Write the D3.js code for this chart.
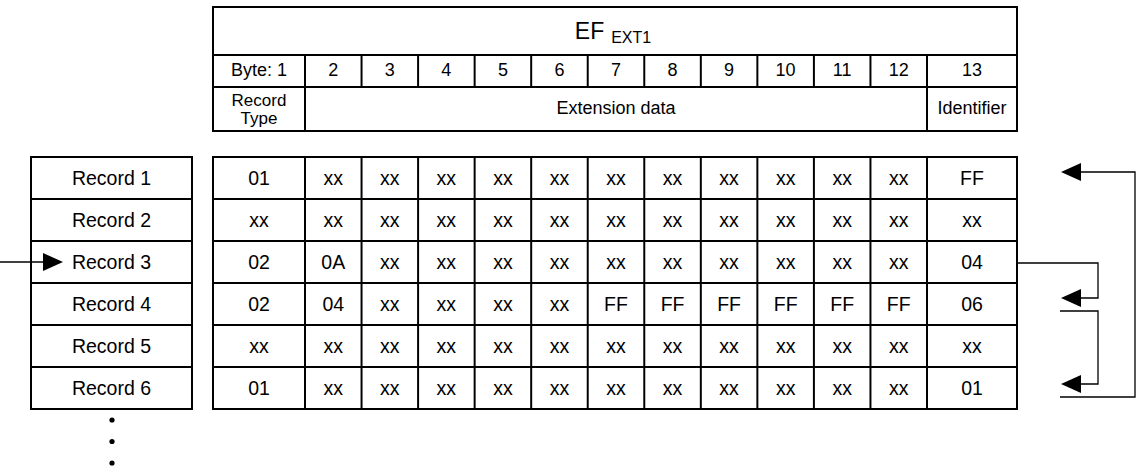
<!DOCTYPE html>
<html>
<head>
<meta charset="utf-8">
<script src="https://cdn.jsdelivr.net/npm/d3@7/dist/d3.min.js"></script>
<style>
  html, body { margin: 0; padding: 0; background: #fff; }
  svg { display: block; }
  text { font-family: "Liberation Sans", Arial, sans-serif; fill: #000; }
</style>
</head>
<body>
<svg id="chart" width="1139" height="468"></svg>
<script>
// ---- data ----
const title = "EF";
const titleSub = "EXT1";
const byteLabels = ["Byte: 1", "2", "3", "4", "5", "6", "7", "8", "9", "10", "11", "12", "13"];
const fieldGroups = [
  { label: ["Record", "Type"], from: 0, to: 1 },
  { label: ["Extension data"], from: 1, to: 12 },
  { label: ["Identifier"], from: 12, to: 13 }
];
const records = ["Record 1", "Record 2", "Record 3", "Record 4", "Record 5", "Record 6"];
const recordValues = [
  ["01", "xx", "xx", "xx", "xx", "xx", "xx", "xx", "xx", "xx", "xx", "xx", "FF"],
  ["xx", "xx", "xx", "xx", "xx", "xx", "xx", "xx", "xx", "xx", "xx", "xx", "xx"],
  ["02", "0A", "xx", "xx", "xx", "xx", "xx", "xx", "xx", "xx", "xx", "xx", "04"],
  ["02", "04", "xx", "xx", "xx", "xx", "FF", "FF", "FF", "FF", "FF", "FF", "06"],
  ["xx", "xx", "xx", "xx", "xx", "xx", "xx", "xx", "xx", "xx", "xx", "xx", "xx"],
  ["01", "xx", "xx", "xx", "xx", "xx", "xx", "xx", "xx", "xx", "xx", "xx", "01"]
];
const currentRecord = "Record 3";
// chain links via identifier: from record -> to record
const links = [
  { from: "Record 3", to: "Record 4" },
  { from: "Record 4", to: "Record 6" },
  { from: "Record 6", to: "Record 1" }
];
const moreDots = [0, 1, 2];

// ---- scales ----
const svg = d3.select("#chart");
const x = d3.scaleLinear().domain([0, 1, 12, 13]).range([213, 305, 927, 1017]);
const y = d3.scaleBand().domain(records).range([157, 409]);
const hdr = d3.scaleOrdinal().domain(["top", "title", "bytes", "fields"]).range([7, 55, 87, 131]);
const recX = d3.scaleLinear().domain([0, 1]).range([31, 192]);
const dotY = d3.scaleLinear().domain([0, 2]).range([420, 463]);

const LW = 2;
const g = svg.append("g");

function line(x1, y1, x2, y2, w) {
  g.append("line").attr("x1", x1).attr("y1", y1).attr("x2", x2).attr("y2", y2)
    .attr("stroke", "#000").attr("stroke-width", w || LW).attr("stroke-linecap", "square");
}

// ---- header table ----
const hTop = hdr("top"), hT = hdr("title"), hB = hdr("bytes"), hF = hdr("fields");
g.append("rect").attr("x", x(0)).attr("y", hTop).attr("width", x(13) - x(0)).attr("height", hF - hTop)
  .attr("fill", "none").attr("stroke", "#000").attr("stroke-width", LW);
line(x(0), hT, x(13), hT);
line(x(0), hB, x(13), hB);
d3.range(1, 13).forEach(i => line(x(i), hT, x(i), hB));
fieldGroups.forEach(f => { if (f.from > 0) line(x(f.from), hB, x(f.from), hF); });

const tt = g.append("text").attr("x", (x(0) + x(13)) / 2 - 2).attr("y", 39).attr("text-anchor", "middle");
tt.append("tspan").attr("font-size", 23).text(title);
tt.append("tspan").attr("font-size", 16).attr("dx", 7).attr("dy", 4).text(titleSub);

g.selectAll(".byte").data(byteLabels).enter().append("text")
  .attr("x", (d, i) => (x(i) + x(i + 1)) / 2).attr("y", 76)
  .attr("text-anchor", "middle").attr("font-size", 18).text(d => d);

fieldGroups.forEach(f => {
  const cx = (x(f.from) + x(f.to)) / 2;
  if (f.label.length === 1) {
    g.append("text").attr("x", cx).attr("y", 114).attr("text-anchor", "middle").attr("font-size", 18).text(f.label[0]);
  } else {
    f.label.forEach((l, k) => g.append("text").attr("x", cx).attr("y", 106 + k * 17.5)
      .attr("text-anchor", "middle").attr("font-size", 17).text(l));
  }
});

// ---- record name table ----
const r0 = y(records[0]), r1 = y(records[records.length - 1]) + y.bandwidth();
g.append("rect").attr("x", recX(0)).attr("y", r0).attr("width", recX(1) - recX(0)).attr("height", r1 - r0)
  .attr("fill", "none").attr("stroke", "#000").attr("stroke-width", LW);
records.forEach((r, i) => {
  if (i > 0) line(recX(0), y(r), recX(1), y(r));
  g.append("text").attr("x", (recX(0) + recX(1)) / 2).attr("y", y(r) + y.bandwidth() / 2 + 7)
    .attr("text-anchor", "middle").attr("font-size", 19.5).text(r);
});

// ---- data table ----
g.append("rect").attr("x", x(0)).attr("y", r0).attr("width", x(13) - x(0)).attr("height", r1 - r0)
  .attr("fill", "none").attr("stroke", "#000").attr("stroke-width", LW);
records.forEach((r, i) => { if (i > 0) line(x(0), y(r), x(13), y(r)); });
d3.range(1, 13).forEach(i => line(x(i), r0, x(i), r1));
recordValues.forEach((row, ri) => {
  row.forEach((v, ci) => {
    g.append("text").attr("x", (x(ci) + x(ci + 1)) / 2).attr("y", y(records[ri]) + y.bandwidth() / 2 + 7)
      .attr("text-anchor", "middle").attr("font-size", 19.5).text(v);
  });
});

// ---- dots ----
g.selectAll(".dot").data(moreDots).enter().append("circle")
  .attr("cx", (recX(0) + recX(1)) / 2 + 0.5).attr("cy", d => dotY(d)).attr("r", 2.6).attr("fill", "#000");

// ---- arrows ----
function arrowHead(tipX, tipY, dir) { // dir: 1 = pointing right, -1 = pointing left
  const L = 20, H = 9;
  const bx = tipX - dir * L;
  g.append("path").attr("d", `M${tipX},${tipY} L${bx},${tipY - H} L${bx},${tipY + H} Z`).attr("fill", "#000");
}
// current record pointer
const cy3 = y(currentRecord) + y.bandwidth() / 2;
g.append("line").attr("x1", 0).attr("y1", cy3).attr("x2", 50).attr("y2", cy3).attr("stroke", "#000").attr("stroke-width", 1.3);
arrowHead(63, cy3, 1);

// chain links
const tipX = 1061, startX = 1060, nearLoop = 1098, farLoop = 1135;
links.forEach((lk, k) => {
  const yf = y(lk.from) + y.bandwidth() / 2;
  const yt = y(lk.to) + y.bandwidth() / 2;
  const fromIdx = records.indexOf(lk.from), toIdx = records.indexOf(lk.to);
  const sx = k === 0 ? x(13) : startX;
  const sy = k === 0 ? yf + 1 : yf + (k === 1 ? 7 : 9);
  const ty = yt - (toIdx === 5 ? 4 : 6);
  const lx = toIdx < fromIdx ? farLoop : nearLoop;
  g.append("path").attr("d", `M${sx},${sy} H${lx} V${ty} H${tipX + 15}`)
    .attr("fill", "none").attr("stroke", "#000").attr("stroke-width", 1.3);
  arrowHead(tipX, ty, -1);
});
</script>
</body>
</html>
